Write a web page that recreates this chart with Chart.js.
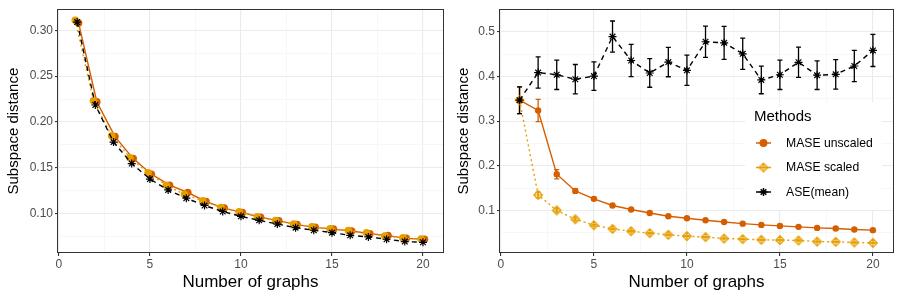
<!DOCTYPE html>
<html>
<head>
<meta charset="utf-8">
<script src="https://cdn.jsdelivr.net/npm/chart.js@4.4.1/dist/chart.umd.min.js"></script>
<style>
  body { margin: 0; background: #fff; }
  #wrap { position: relative; width: 900px; height: 300px; }
  .panel { position: absolute; top: 0; width: 450px; height: 300px; }
</style>
</head>
<body>
<div id="wrap">
  <div class="panel" style="left:0"><canvas id="left" width="450" height="300"></canvas></div>
  <div class="panel" style="left:450px"><canvas id="right" width="450" height="300"></canvas></div>
</div>
<script>
// ---- data ----
var numGraphs = [1,2,3,4,5,6,7,8,9,10,11,12,13,14,15,16,17,18,19,20];
var methodNames = ["MASE unscaled", "MASE scaled", "ASE(mean)"];

var leftUnscaled = [0.308,0.222,0.184,0.160,0.143,0.131,0.123,0.113,0.106,0.101,0.096,0.092,0.088,0.085,0.083,0.081,0.078,0.076,0.073,0.072];
var leftScaled   = [0.311,0.223,0.185,0.161,0.1445,0.131,0.121,0.114,0.1065,0.102,0.0965,0.0925,0.0885,0.0855,0.0835,0.0815,0.079,0.0755,0.0735,0.0723];
var leftAse      = [0.309,0.2185,0.178,0.1546,0.1377,0.1258,0.1168,0.1088,0.1023,0.097,0.0926,0.0886,0.0846,0.0818,0.0792,0.0763,0.0745,0.072,0.0695,0.0687];

var rightUnscaled    = [0.347,0.324,0.181,0.1436,0.1258,0.111,0.102,0.094,0.0867,0.0822,0.0778,0.074,0.0702,0.0674,0.0652,0.063,0.0607,0.0592,0.057,0.0556];
var rightUnscaledErr = [0.030,0.025,0.0105,0.005,0.003,0.0025,0.002,0.002,0.002,0.0018,0.0016,0.0015,0.0014,0.0013,0.0012,0.0012,0.0011,0.001,0.001,0.001];
var rightScaled      = [0.347,0.1347,0.100,0.080,0.0667,0.0584,0.0533,0.0489,0.0452,0.0422,0.040,0.0369,0.0356,0.034,0.0333,0.0325,0.030,0.0296,0.028,0.027];
var rightScaledErr   = [0.030,0.006,0.004,0.003,0.002,0.0018,0.0015,0.0014,0.0013,0.0012,0.0011,0.001,0.001,0.001,0.001,0.001,0.001,0.001,0.001,0.001];
var rightAse         = [0.347,0.409,0.404,0.394,0.401,0.4896,0.436,0.408,0.4325,0.414,0.478,0.4756,0.451,0.3924,0.404,0.432,0.403,0.405,0.4236,0.4585];
var rightAseErr      = [0.030,0.035,0.033,0.033,0.032,0.035,0.036,0.032,0.033,0.034,0.035,0.037,0.035,0.031,0.033,0.034,0.032,0.033,0.035,0.036];

var xMajor = [0,5,10,15,20];
var xMinor = [2.5,7.5,12.5,17.5];
var leftYMajor = [0.10,0.15,0.20,0.25,0.30];
var leftYMinor = [0.075,0.125,0.175,0.225,0.275];
var rightYMajor = [0.1,0.2,0.3,0.4,0.5];
var rightYMinor = [0.05,0.15,0.25,0.35,0.45];

// ---- styling ----
var colUnscaled = "#D55E00";
var colScaled = "#E69F00";
var colAse = "#000000";
Chart.defaults.font.family = "'Liberation Sans', Arial, sans-serif";
Chart.defaults.animation = false;

// open diamond with a plus inside (ggplot shape 9)
function diamondPlus(color, r) {
  var c = document.createElement("canvas");
  var s = Math.ceil(r * 2 + 3);
  c.width = s; c.height = s;
  var g = c.getContext("2d");
  var m = s / 2;
  g.strokeStyle = color;
  g.lineWidth = 1.2;
  g.beginPath();
  g.moveTo(m, m - r); g.lineTo(m + r, m); g.lineTo(m, m + r); g.lineTo(m - r, m); g.closePath();
  g.moveTo(m, m - r); g.lineTo(m, m + r);
  g.moveTo(m - r, m); g.lineTo(m + r, m);
  g.stroke();
  return c;
}

function pts(ys, dodge) {
  return ys.map(function (y, i) { return { x: numGraphs[i] + (dodge || 0), y: y }; });
}

function gridTicks(major, minor) {
  return major.map(function (v) { return { value: v, isMajor: true }; })
    .concat(minor.map(function (v) { return { value: v, isMajor: false }; }))
    .sort(function (a, b) { return a.value - b.value; });
}

// error bars, drawn under the points; first dataset ends up on top
var errorBars = {
  id: "errorBars",
  beforeDatasetsDraw: function (chart) {
    var ctx = chart.ctx, xs = chart.scales.x, ys = chart.scales.y;
    chart.data.datasets.slice().reverse().forEach(function (ds) {
      if (!ds.errors) return;
      ctx.save();
      ctx.strokeStyle = ds.borderColor;
      ctx.lineWidth = 1.3;
      ds.data.forEach(function (p, i) {
        var e = ds.errors[i];
        var x = xs.getPixelForValue(p.x);
        var y1 = ys.getPixelForValue(p.y - e), y2 = ys.getPixelForValue(p.y + e);
        ctx.beginPath();
        ctx.moveTo(x, y1); ctx.lineTo(x, y2);
        ctx.moveTo(x - 2.5, y1); ctx.lineTo(x + 2.5, y1);
        ctx.moveTo(x - 2.5, y2); ctx.lineTo(x + 2.5, y2);
        ctx.stroke();
      });
      ctx.restore();
    });
  }
};

// panel border + optional inside legend
var panelDecor = {
  id: "panelDecor",
  afterDatasetsDraw: function (chart, args, opts) {
    var ctx = chart.ctx, a = chart.chartArea;
    ctx.save();
    ctx.strokeStyle = "#333333";
    ctx.lineWidth = 1;
    ctx.strokeRect(Math.round(a.left) - 0.5, Math.round(a.top) + 0.5, Math.round(a.right - a.left) + 1, Math.round(a.bottom - a.top) - 1);
    if (opts.legend) {
      var L = opts.legend;
      ctx.fillStyle = "#ffffff";
      ctx.fillRect(L.x, L.y, L.w, L.h);
      ctx.fillStyle = "#000";
      ctx.textBaseline = "middle";
      ctx.textAlign = "left";
      ctx.font = "15px 'Liberation Sans', Arial, sans-serif";
      ctx.fillText(L.title, L.x + 9, L.y + 15);
      ctx.font = "12.2px 'Liberation Sans', Arial, sans-serif";
      L.items.forEach(function (name, i) {
        var ds = chart.data.datasets.find(function (d) { return d.label === name; });
        var y = L.y + 41 + i * 24.5;
        var x0 = L.x + 11;
        ctx.strokeStyle = ds.borderColor;
        ctx.lineWidth = 1.5;
        ctx.setLineDash([]);
        ctx.beginPath(); ctx.moveTo(x0, y); ctx.lineTo(x0 + 15, y); ctx.stroke();
        ctx.fillStyle = ds.pointBackgroundColor || ds.borderColor;
        Chart.helpers.drawPoint(ctx, { pointStyle: ds.pointStyle, rotation: 0, radius: ds.pointRadius, borderWidth: ds.pointBorderWidth || 1 }, x0 + 7.5, y);
        ctx.fillStyle = "#000";
        ctx.fillText(name, L.x + 41, y + 0.5);
      });
    }
    ctx.restore();
  }
};

function makePanel(id, datasets, cfg) {
  var tickFont = { size: 12 };
  return new Chart(document.getElementById(id), {
    type: "line",
    data: { datasets: datasets },
    plugins: [errorBars, panelDecor],
    options: {
      responsive: false,
      animation: false,
      layout: { padding: { left: 0, right: cfg.padRight, top: cfg.padTop, bottom: 0 } },
      plugins: { legend: { display: false }, tooltip: { enabled: false }, panelDecor: { legend: cfg.legend } },
      scales: {
        x: {
          type: "linear", min: cfg.xMin, max: cfg.xMax,
          afterBuildTicks: function (s) { s.ticks = gridTicks(xMajor, xMinor); },
          afterFit: function (s) { s.height = 47; },
          ticks: {
            autoSkip: false, maxRotation: 0, padding: 1, color: "#4D4D4D", font: tickFont,
            callback: function (v, i, t) { return t[i].isMajor ? String(v) : ""; }
          },
          grid: {
            color: function (c) { return c.tick && c.tick.isMajor ? "#EBEBEB" : "#F4F4F4"; },
            lineWidth: function (c) { return c.tick && c.tick.isMajor ? 1.1 : 0.7; },
            tickLength: 3,
            tickColor: function (c) { return c.tick && c.tick.isMajor ? "#333333" : "rgba(0,0,0,0)"; }
          },
          border: { display: false },
          title: { display: true, text: "Number of graphs", color: "#000", font: { size: 17 }, padding: { top: 0, bottom: 7 } }
        },
        y: {
          type: "linear", min: cfg.yMin, max: cfg.yMax,
          afterBuildTicks: function (s) { s.ticks = gridTicks(cfg.yMajor, cfg.yMinor); },
          afterFit: function (s) { s.width = cfg.yWidth; },
          ticks: {
            autoSkip: false, padding: 2, color: "#4D4D4D", font: tickFont,
            callback: function (v, i, t) { return t[i].isMajor ? v.toFixed(cfg.yDigits) : ""; }
          },
          grid: {
            color: function (c) { return c.tick && c.tick.isMajor ? "#EBEBEB" : "#F4F4F4"; },
            lineWidth: function (c) { return c.tick && c.tick.isMajor ? 1.1 : 0.7; },
            tickLength: 3,
            tickColor: function (c) { return c.tick && c.tick.isMajor ? "#333333" : "rgba(0,0,0,0)"; }
          },
          border: { display: false },
          title: { display: true, text: "Subspace distance", color: "#000", font: { size: 15 }, padding: { top: 5, bottom: 0 } }
        }
      }
    }
  });
}

// left panel: points slightly dodged
makePanel("left", [
  { label: methodNames[2], data: pts(leftAse), borderColor: colAse, borderWidth: 1.4, borderDash: [5, 4],
    pointStyle: "star", pointRadius: 4, pointBorderWidth: 1.2, pointBorderColor: colAse },
  { label: methodNames[1], data: pts(leftScaled, -0.1), borderColor: colScaled, borderWidth: 1.4, borderDash: [2, 3],
    pointStyle: "circle", pointRadius: 3.8, pointBorderWidth: 0, pointBackgroundColor: colScaled },
  { label: methodNames[0], data: pts(leftUnscaled, 0.08), borderColor: colUnscaled, borderWidth: 1.4,
    pointStyle: "circle", pointRadius: 3.8, pointBorderWidth: 0, pointBackgroundColor: colUnscaled }
], {
  xMin: -0.05, xMax: 21.1, yMin: 0.057, yMax: 0.323, yMajor: leftYMajor, yMinor: leftYMinor, yDigits: 2,
  yWidth: 58, padRight: 7, padTop: 8, legend: null
});

// right panel with error bars and legend
makePanel("right", [
  { label: methodNames[2], data: pts(rightAse), errors: rightAseErr, borderColor: colAse, borderWidth: 1.4, borderDash: [5, 4],
    pointStyle: "star", pointRadius: 4, pointBorderWidth: 1.2, pointBorderColor: colAse },
  { label: methodNames[0], data: pts(rightUnscaled), errors: rightUnscaledErr, borderColor: colUnscaled, borderWidth: 1.4,
    pointStyle: "circle", pointRadius: 3.2, pointBorderWidth: 0, pointBackgroundColor: colUnscaled },
  { label: methodNames[1], data: pts(rightScaled), errors: rightScaledErr, borderColor: colScaled, borderWidth: 1.4, borderDash: [2, 3],
    pointStyle: diamondPlus(colScaled, 4.3), pointRadius: 4.3, pointBorderWidth: 1.2, pointBackgroundColor: "rgba(0,0,0,0)" }
], {
  xMin: -0.05, xMax: 21.08, yMin: 0.0044, yMax: 0.551, yMajor: rightYMajor, yMinor: rightYMinor, yDigits: 1,
  yWidth: 50, padRight: 7, padTop: 7,
  legend: { x: 295, y: 102, w: 137, h: 108, title: "Methods", items: methodNames }
});
</script>
</body>
</html>
